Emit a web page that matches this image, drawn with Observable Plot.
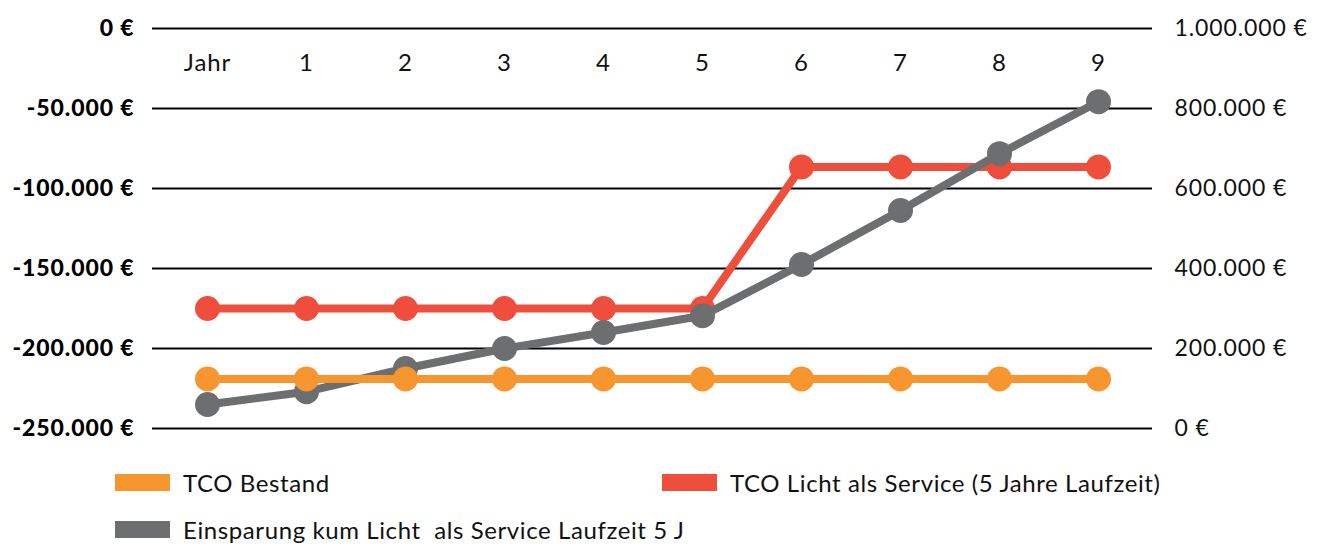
<!DOCTYPE html>
<html>
<head>
<meta charset="utf-8">
<script src="https://cdn.jsdelivr.net/npm/d3@7"></script>
<script src="https://cdn.jsdelivr.net/npm/@observablehq/plot@0.6"></script>
<style>
  body { margin: 0; background: #fff; font-family: Lato, "Open Sans", sans-serif; }
  #chart { position: relative; width: 1327px; }
  .legend { position: relative; width: 1327px; height: 106px; }
  .item { position: absolute; display: flex; align-items: center; font-size: 24px; color: #111; white-space: pre; letter-spacing: 0.6px; }
  .sw { width: 55px; height: 17px; margin-right: 13px; }
</style>
</head>
<body>
<div id="chart"></div>
<script>
const jahre = ["Jahr", "1", "2", "3", "4", "5", "6", "7", "8", "9"];
const tcoBestand = [-219000, -219000, -219000, -219000, -219000, -219000, -219000, -219000, -219000, -219000];
const tcoService = [-175000, -175000, -175000, -175000, -175000, -175000, -86500, -86500, -86500, -86500];
const einsparung = [60000, 92000, 150000, 200000, 240000, 282000, 410000, 545000, 687000, 817000];
const leftTicks = [0, -50000, -100000, -150000, -200000, -250000];
const rightTicks = [0, 200000, 400000, 600000, 800000, 1000000];
const seriesNames = ["TCO Bestand", "TCO Licht als Service (5 Jahre Laufzeit)", "Einsparung kum Licht  als Service Laufzeit 5 J"];
const colors = ["#F7962F", "#EF4E3C", "#6C6E70"];

const loc = d3.formatLocale({decimal: ",", thousands: ".", grouping: [3], currency: ["", " €"]});
const num = loc.format(",.0f");
const fmtEuro = v => (v < 0 ? "-" : "") + num(Math.abs(v)) + " €";
// right axis (0 .. 1.000.000 €) mapped onto the left domain (-250.000 .. 0 €)
const toLeft = v => v / 4 - 250000;
const fromLeft = v => Math.round((v + 250000) * 4);

const rows = (vals, left) => jahre.map((j, i) => ({jahr: j, v: left ? vals[i] : toLeft(vals[i])}));
const dBestand = rows(tcoBestand, true);
const dService = rows(tcoService, true);
const dEinsp = rows(einsparung, false);

const chart = Plot.plot({
  width: 1327,
  height: 440,
  marginTop: 28,
  marginBottom: 12,
  marginLeft: 152,
  marginRight: 175,
  style: {fontFamily: "Lato, 'Open Sans', sans-serif", background: "#fff", letterSpacing: "0.9px"},
  x: {type: "point", domain: jahre, range: [205, 1100], padding: 0},
  y: {domain: [-250000, 0]},
  marks: [
    Plot.ruleY(leftTicks, {stroke: "#000", strokeWidth: 2}),
    Plot.axisY({ticks: leftTicks, tickFormat: fmtEuro, anchor: "left", tickSize: 0, tickPadding: 18, fontSize: 23, fontWeight: 900, fill: "#000", label: null}),
    Plot.axisY({ticks: rightTicks.map(toLeft), tickFormat: v => fmtEuro(fromLeft(v)), anchor: "right", tickSize: 0, tickPadding: 22, fontSize: 23, fill: "#111", label: null}),
    Plot.axisX({anchor: "top", tickSize: 0, tickPadding: 0, dy: 42, fontSize: 24, fill: "#111", label: null}),
    Plot.line(dService, {x: "jahr", y: "v", stroke: colors[1], strokeWidth: 8}),
    Plot.dot(dService, {x: "jahr", y: "v", r: 12.5, fill: colors[1]}),
    Plot.line(dEinsp, {x: "jahr", y: "v", stroke: colors[2], strokeWidth: 8}),
    Plot.dot(dEinsp, {x: "jahr", y: "v", r: 12.5, fill: colors[2]}),
    Plot.line(dBestand, {x: "jahr", y: "v", stroke: colors[0], strokeWidth: 8}),
    Plot.dot(dBestand, {x: "jahr", y: "v", r: 12.5, fill: colors[0]})
  ]
});
document.getElementById("chart").appendChild(chart);

const legend = document.createElement("div");
legend.className = "legend";
const pos = [[115, 43], [662, 43], [115, 90]];
seriesNames.forEach((name, i) => {
  const it = document.createElement("div");
  it.className = "item";
  it.style.left = pos[i][0] + "px";
  it.style.top = (pos[i][1] - 15) + "px";
  const sw = document.createElement("div");
  sw.className = "sw";
  sw.style.background = colors[i];
  const t = document.createElement("span");
  t.textContent = name;
  it.appendChild(sw);
  it.appendChild(t);
  legend.appendChild(it);
});
document.getElementById("chart").appendChild(legend);
</script>
</body>
</html>
